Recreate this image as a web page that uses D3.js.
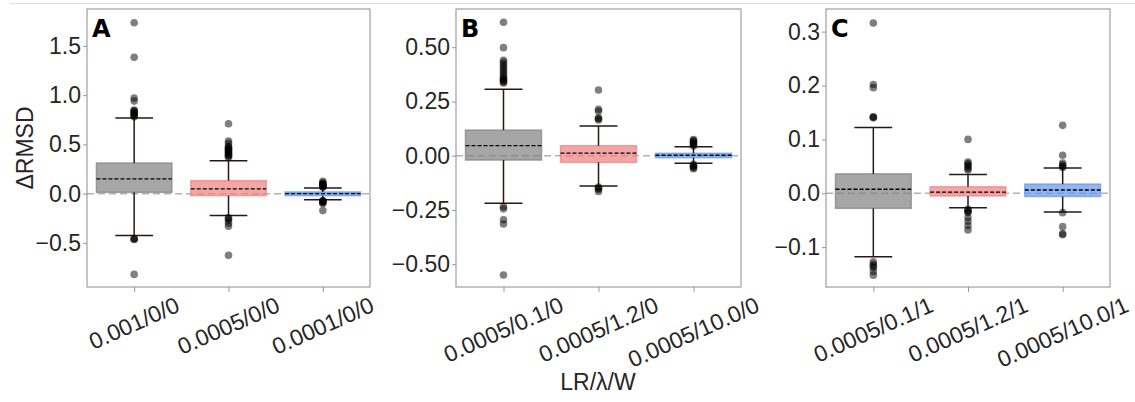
<!DOCTYPE html>
<html><head><meta charset="utf-8">
<script src="https://cdn.jsdelivr.net/npm/d3@7"></script>
<style>body{margin:0;background:#fff}svg{display:block}</style>
</head><body><svg id="c" width="1135" height="402"></svg>
<script>
// ---------- data ----------
const catsA = ["0.001/0/0", "0.0005/0/0", "0.0001/0/0"];
const q1A = [0.013, -0.02, -0.02];
const q3A = [0.311, 0.132, 0.017];
const meanA = [0.149, 0.048, 0.0];
const loA = [-0.426, -0.223, -0.061];
const hiA = [0.767, 0.334, 0.057];
const outA = [
  [1.735, 1.385, 0.97, 0.94, 0.85, 0.84, 0.83, 0.82, 0.81, 0.80, 0.79, 0.78, -0.455, -0.46, -0.465, -0.82],
  [0.71, 0.535, 0.51, 0.48, 0.47, 0.46, 0.45, 0.44, 0.43, 0.42, 0.41, 0.40, 0.39, 0.38, 0.37, -0.245, -0.255, -0.27, -0.30, -0.33, -0.625],
  [0.125, 0.11, 0.10, 0.095, 0.09, 0.085, 0.08, 0.075, 0.07, 0.065, -0.07, -0.075, -0.08, -0.085, -0.09, -0.1, -0.172]
];
const ticksA = [-0.5, 0.0, 0.5, 1.0, 1.5];
const limA = [-0.948, 1.875];

const catsB = ["0.0005/0.1/0", "0.0005/1.2/0", "0.0005/10.0/0"];
const q1B = [-0.02, -0.031, -0.009];
const q3B = [0.118, 0.046, 0.011];
const meanB = [0.046, 0.012, 0.002];
const loB = [-0.219, -0.14, -0.035];
const hiB = [0.306, 0.137, 0.041];
const outB = [
  [0.615, 0.498, 0.44, 0.43, 0.42, 0.41, 0.40, 0.39, 0.38, 0.37, 0.36, 0.355, 0.35, 0.345, 0.34, 0.335, -0.235, -0.245, -0.295, -0.315, -0.55],
  [0.303, 0.214, 0.205, 0.175, 0.17, 0.165, -0.145, -0.15, -0.155, -0.165],
  [0.075, 0.07, 0.065, 0.06, 0.055, 0.05, 0.045, -0.04, -0.045, -0.05, -0.055, -0.06]
];
const ticksB = [-0.5, -0.25, 0.0, 0.25, 0.5];
const limB = [-0.605, 0.676];

const catsC = ["0.0005/0.1/1", "0.0005/1.2/1", "0.0005/10.0/1"];
const q1C = [-0.028, -0.005, -0.006];
const q3C = [0.036, 0.012, 0.017];
const meanC = [0.0074, 0.002, 0.006];
const loC = [-0.118, -0.027, -0.035];
const hiC = [0.122, 0.035, 0.047];
const outC = [
  [0.316, 0.202, 0.196, 0.142, 0.141, 0.140, -0.127, -0.132, -0.135, -0.138, -0.145, -0.152],
  [0.10, 0.058, 0.055, 0.052, 0.049, 0.046, 0.043, -0.030, -0.032, -0.034, -0.036, -0.045, -0.052, -0.060, -0.068],
  [0.126, 0.0705, 0.056, 0.053, 0.050, 0.048, -0.036, -0.062, -0.075, -0.077]
];
const ticksC = [-0.1, 0.0, 0.1, 0.2, 0.3];
const limC = [-0.174, 0.342];

const boxColors = ["#808080", "#f08080", "#6495ed"];
const panelLetters = ["A", "B", "C"];

// ---------- drawing ----------
(function () {
const svg = d3.select("#c");
const FONT = "'Liberation Sans', Arial, sans-serif";
const FS = 23;
const TXT = "#262626";
const yTop = 9, yBot = 287;
const panels = [
  {cats: catsA, q1: q1A, q3: q3A, mean: meanA, lo: loA, hi: hiA, out: outA, ticks: ticksA, lim: limA, fmt: ".1f", L: 87, R: 370},
  {cats: catsB, q1: q1B, q3: q3B, mean: meanB, lo: loB, hi: hiB, out: outB, ticks: ticksB, lim: limB, fmt: ".2f", L: 456, R: 741},
  {cats: catsC, q1: q1C, q3: q3C, mean: meanC, lo: loC, hi: hiC, out: outC, ticks: ticksC, lim: limC, fmt: ".1f", L: 826, R: 1110}
];

svg.append("line").attr("x1", 10).attr("x2", 1135).attr("y1", 3.5).attr("y2", 3.5)
  .attr("stroke", "#dcdcdc").attr("stroke-width", 1);

panels.forEach((p, pi) => {
  const g = svg.append("g");
  const x = d3.scalePoint().domain(p.cats).range([p.L, p.R]).padding(0.5);
  const y = d3.scaleLinear().domain(p.lim).range([yBot, yTop]);
  const step = x.step();
  const bw = step * 0.8, cw = step * 0.4;

  const ya = g.append("g").attr("transform", `translate(${p.L},0)`)
    .call(d3.axisLeft(y).tickValues(p.ticks).tickFormat(d3.format(p.fmt)).tickSize(4).tickPadding(2));
  ya.select(".domain").remove();
  ya.attr("font-size", FS).attr("font-family", FONT);
  ya.selectAll("line").attr("stroke", "#999");
  ya.selectAll("text").style("font-family", FONT).style("font-size", FS + "px").attr("fill", TXT);

  const xa = g.append("g").attr("transform", `translate(0,${yBot})`)
    .call(d3.axisBottom(x).tickSize(5).tickFormat(""));
  xa.select(".domain").remove();
  xa.selectAll("line").attr("stroke", "#999");

  const ang = 24;
  const theta = ang * Math.PI / 180;
  p.cats.forEach(c => {
    const t = g.append("text").text(c)
      .style("font-family", FONT).style("font-size", FS + "px").attr("fill", TXT)
      .attr("text-anchor", "middle").attr("dominant-baseline", "central");
    const w = t.node().getComputedTextLength();
    const h = FS * 0.72;
    const H = w * Math.sin(theta) + h * Math.cos(theta);
    const cy = yBot + 9 + H / 2;
    t.attr("transform", `translate(${x(c)},${cy}) rotate(${-ang})`);
  });

  g.append("line").attr("x1", p.L).attr("x2", p.R).attr("y1", y(0)).attr("y2", y(0))
    .attr("stroke", "#b3b3b3").attr("stroke-width", 1.5).attr("stroke-dasharray", "7,4");

  p.cats.forEach((c, i) => {
    const cx = x(c);
    g.append("rect").attr("x", cx - bw / 2).attr("width", bw)
      .attr("y", y(p.q3[i])).attr("height", y(p.q1[i]) - y(p.q3[i]))
      .attr("fill", boxColors[i]).attr("fill-opacity", 0.7)
      .attr("stroke", boxColors[i]).attr("stroke-opacity", 0.7).attr("stroke-width", 1.5);
    g.append("line").attr("x1", cx - bw / 2).attr("x2", cx + bw / 2)
      .attr("y1", y(p.mean[i])).attr("y2", y(p.mean[i]))
      .attr("stroke", "#000").attr("stroke-width", 1.3).attr("stroke-dasharray", "4,2");
    const wc = "#2a1616";
    g.append("line").attr("x1", cx).attr("x2", cx).attr("y1", y(p.q3[i])).attr("y2", y(p.hi[i]))
      .attr("stroke", wc).attr("stroke-width", 1.5);
    g.append("line").attr("x1", cx).attr("x2", cx).attr("y1", y(p.q1[i])).attr("y2", y(p.lo[i]))
      .attr("stroke", wc).attr("stroke-width", 1.5);
    [p.hi[i], p.lo[i]].forEach(v => {
      g.append("line").attr("x1", cx - cw / 2).attr("x2", cx + cw / 2).attr("y1", y(v)).attr("y2", y(v))
        .attr("stroke", wc).attr("stroke-width", 1.5);
    });
    g.selectAll(null).data(p.out[i]).enter().append("circle")
      .attr("cx", cx).attr("cy", d => y(d)).attr("r", 3.8)
      .attr("fill", "#000").attr("fill-opacity", 0.5);
  });

  g.append("rect").attr("x", p.L).attr("y", yTop).attr("width", p.R - p.L).attr("height", yBot - yTop)
    .attr("fill", "none").attr("stroke", "#8c8c8c").attr("stroke-width", 1);

  g.append("text").text(panelLetters[pi]).attr("x", p.L + 5).attr("y", 37)
    .style("font-family", "'DejaVu Sans', sans-serif").attr("font-weight", "bold")
    .style("font-size", "24px").attr("fill", "#000");
});

svg.append("text").text("ΔRMSD").attr("transform", "translate(25,148) rotate(-90)")
  .attr("text-anchor", "middle").attr("dominant-baseline", "central")
  .style("font-family", FONT).style("font-size", FS + "px").attr("fill", TXT);
svg.append("text").text("LR/λ/W").attr("x", 598).attr("y", 390)
  .attr("text-anchor", "middle")
  .style("font-family", FONT).style("font-size", FS + "px").attr("fill", TXT);
})();
</script></body></html>
